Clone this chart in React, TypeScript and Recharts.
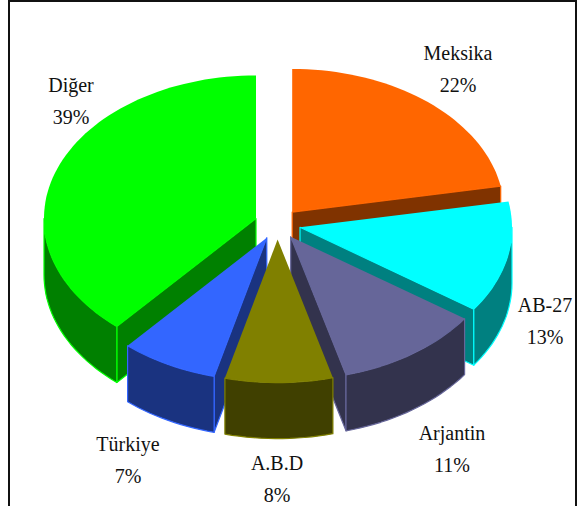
import { PieChart, Pie } from "recharts";

const names = ["Diğer", "Meksika", "AB-27", "Arjantin", "A.B.D", "Türkiye"];
// shares read from the slice edges, the labels show them rounded
const shares = [38.6, 22.1, 12.6, 11.1, 8.2, 7.4];
const topColors = ["#00FF00", "#FF6600", "#00FFFF", "#666699", "#808000", "#3366FF"];
const wallColors = ["#008000", "#803300", "#008080", "#33334D", "#404000", "#1A3380"];

// label centre x and first baseline, same order as names
const labelSpots = [
  [71, 92],
  [458, 60],
  [545, 312],
  [452, 440],
  [277, 470],
  [128, 451],
];

const data = names.map((name, i) => ({ name, value: shares[i], index: i }));

const WIDTH = 577;
const HEIGHT = 506;
const CX = 277.5;
const CY = 224;
const RX = 212;
const TILT = 0.675;
const DEPTH = 56;
const EXPLODE = 23;
// Diğer comes first in the data, so the sweep starts where it starts
const START_ANGLE = 90 + (shares[0] / 100) * 360;

const rad = (deg: number) => (deg * Math.PI) / 180;

const SliceShape = (props: any) => {
  const { cx, cy, outerRadius, startAngle, endAngle, payload } = props;
  const i = payload.index;
  // angles measured clockwise from the top
  const a0 = ((90 - startAngle) % 360 + 360) % 360;
  const a1 = a0 + (startAngle - endAngle);
  const mid = (a0 + a1) / 2;
  const ax = cx + EXPLODE * Math.sin(rad(mid));
  const ay = cy - EXPLODE * TILT * Math.cos(rad(mid));
  const rim = (a: number): [number, number] => [
    ax + outerRadius * Math.sin(rad(a)),
    ay - outerRadius * TILT * Math.cos(rad(a)),
  ];
  const arc = (from: number, to: number) => {
    const pts: [number, number][] = [];
    const steps = Math.max(2, Math.ceil(Math.abs(to - from) / 2));
    for (let s = 0; s <= steps; s++) pts.push(rim(from + ((to - from) * s) / steps));
    return pts;
  };
  const poly = (pts: [number, number][]) =>
    "M" + pts.map((p) => `${p[0].toFixed(1)},${p[1].toFixed(1)}`).join("L") + "Z";
  const down = (pts: [number, number][]) =>
    pts.map((p): [number, number] => [p[0], p[1] + DEPTH]);

  const walls: [number, number][][] = [];
  if (Math.sin(rad(a0)) < 0) {
    const p = rim(a0);
    walls.push([[ax, ay], p, [p[0], p[1] + DEPTH], [ax, ay + DEPTH]]);
  }
  if (Math.sin(rad(a1)) > 0) {
    const p = rim(a1);
    walls.push([[ax, ay], p, [p[0], p[1] + DEPTH], [ax, ay + DEPTH]]);
  }
  const from = Math.max(a0, 90);
  const to = Math.min(a1, 270);
  if (to > from) {
    const top = arc(from, to);
    walls.push([...top, ...down(top).reverse()]);
  }

  return (
    <g>
      {walls.map((w, k) => (
        <path
          key={k}
          d={poly(w)}
          fill={wallColors[i]}
          stroke={topColors[i]}
          strokeWidth={1.2}
          strokeLinejoin="round"
        />
      ))}
      <path d={poly([[ax, ay], ...arc(a0, a1)])} fill={topColors[i]} />
    </g>
  );
};

const BackShape = (props: any) =>
  props.payload.name === "A.B.D" ? <g /> : <SliceShape {...props} />;
const FrontShape = (props: any) =>
  props.payload.name === "A.B.D" ? <SliceShape {...props} /> : <g />;

const renderLabel = (props: any) => {
  const { payload } = props;
  const [x, y] = labelSpots[payload.index];
  return (
    <text
      x={x}
      y={y}
      textAnchor="middle"
      fill="#111111"
      fontFamily="'Liberation Serif', serif"
      fontSize={20}
    >
      <tspan x={x} y={y}>
        {payload.name}
      </tspan>
      <tspan x={x} y={y + 32}>
        {Math.round(payload.value)}%
      </tspan>
    </text>
  );
};

export default function App() {
  return (
    <div
      style={{
        position: "absolute",
        left: 0,
        top: 0,
        width: WIDTH,
        height: HEIGHT,
        overflow: "hidden",
        background: "#fff",
      }}
    >
      <div
        style={{
          position: "absolute",
          left: 8,
          top: 0,
          width: 565,
          height: 540,
          border: "2px solid #111",
        }}
      />
      <div style={{ position: "absolute", left: 0, top: 0 }}>
        <PieChart width={WIDTH} height={HEIGHT} margin={{ top: 0, right: 0, bottom: 0, left: 0 }}>
          <Pie
            data={data}
            dataKey="value"
            nameKey="name"
            cx={CX}
            cy={CY}
            innerRadius={0}
            outerRadius={RX}
            startAngle={START_ANGLE}
            endAngle={START_ANGLE - 360}
            paddingAngle={0}
            stroke="none"
            shape={BackShape}
            label={renderLabel}
            labelLine={false}
            isAnimationActive={false}
          />
          <Pie
            data={data}
            dataKey="value"
            nameKey="name"
            cx={CX}
            cy={CY}
            innerRadius={0}
            outerRadius={RX}
            startAngle={START_ANGLE}
            endAngle={START_ANGLE - 360}
            paddingAngle={0}
            stroke="none"
            shape={FrontShape}
            label={false}
            labelLine={false}
            isAnimationActive={false}
          />
        </PieChart>
      </div>
    </div>
  );
}
